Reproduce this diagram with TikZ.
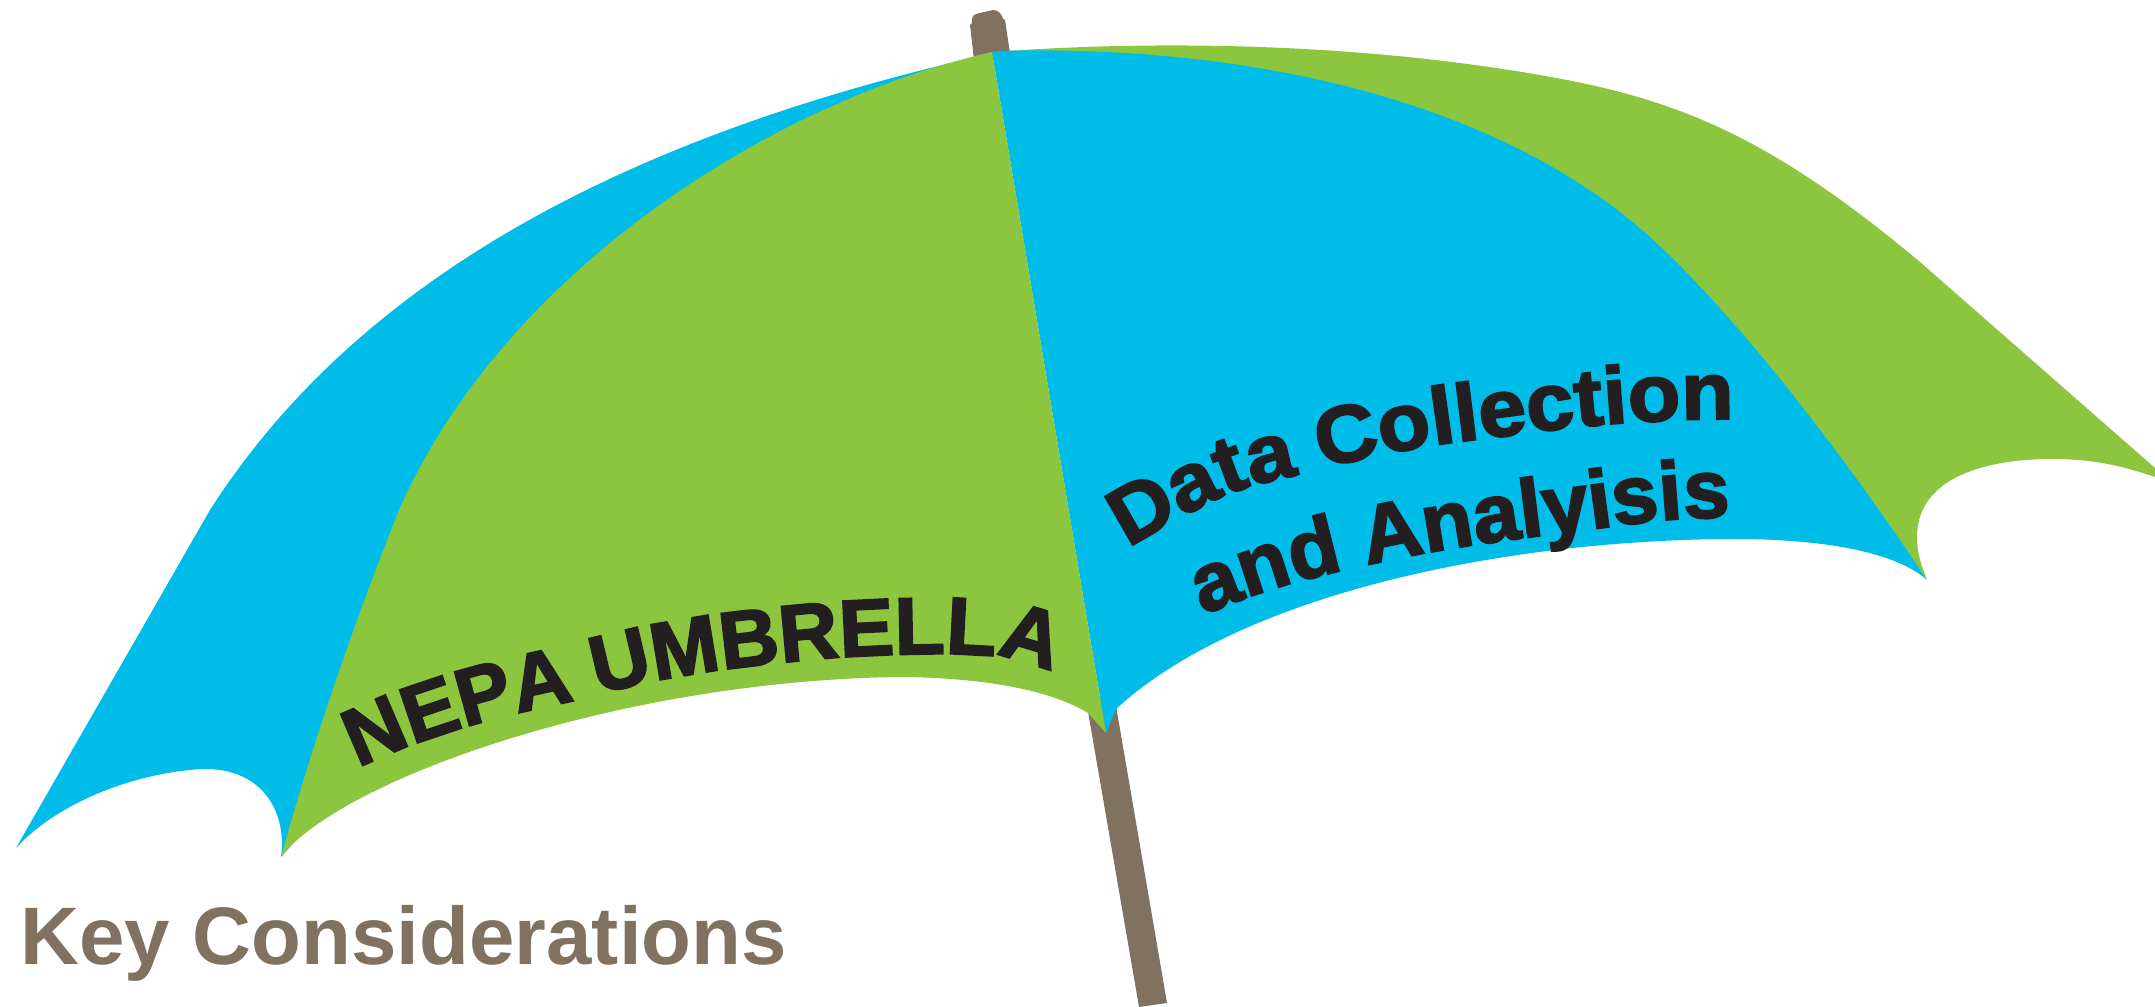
\documentclass[tikz,border=0pt]{standalone}
\usepackage{fontspec}
\usetikzlibrary{decorations.text}
\setmainfont{Liberation Sans}
\newfontfamily\heavyfont[FakeBold=2.5,FakeStretch=1.015]{Liberation Sans Bold}
\newfontfamily\wideheavyfont[FakeBold=2.5,FakeStretch=1.065]{Liberation Sans Bold}
\newcommand{\nepafont}{\fontsize{23}{23}\heavyfont}
\newcommand{\datafont}{\fontsize{23}{23}\wideheavyfont}
\newcommand{\andfont}{\fontsize{23.4}{23.4}\heavyfont}
\definecolor{umbgreen}{HTML}{8CC63F}
\definecolor{umbblue}{HTML}{00BCE8}
\definecolor{umbbrown}{HTML}{807160}
\definecolor{umbink}{HTML}{231F20}
\tikzset{
  panelgreen/.style={fill=umbgreen,draw=none},
  panelblue/.style={fill=umbblue,draw=none},
  poleshape/.style={fill=umbbrown,draw=none},
  curved/.style={smooth,tension=0.7},
}
\begin{document}
\begin{tikzpicture}[x=0.01cm,y=-0.01cm]
\useasboundingbox (0,0) rectangle (2155,1007);
% pole
\fill[poleshape] (974,60) -- (970,25) -- (972,23) .. controls (971,15) and (975,14) .. (980,13)
  -- (993,10) .. controls (999,10) and (1002,15) .. (1003,19) -- (1005,20) -- (1011,60) -- cycle;
\fill[poleshape] (1086,700) -- (1115,700) -- (1167,1003) -- (1139,1007) -- cycle;
% right green panel
\fill[panelgreen] (1007,51)
  .. controls (1200,38) and (1400,48) .. (1567,80)
  .. controls (1690,104) and (1780,145) .. (1920,262)
  -- (2155,468) -- (2155,477)
  .. controls (2120,465) and (2090,459) .. (2053,459)
  .. controls (1980,459) and (1917,480) .. (1917,537)
  .. controls (1917,552) and (1921,566) .. (1927,579)
  -- (1880,520) -- (1500,300) -- cycle;
% right blue panel
\fill[panelblue] (992,52) -- (1000,51)
  .. controls (1210,45) and (1480,85) .. (1650,237)
  .. controls (1740,320) and (1840,450) .. (1927,580)
  .. controls (1905,560) and (1850,539) .. (1733,539)
  .. controls (1500,540) and (1240,595) .. (1116,709)
  -- (1106,733) -- cycle;
% left blue panel
\fill[panelblue] (992,52) -- (976,57)
  .. controls (660,130) and (370,260) .. (210,510)
  -- (16,848)
  .. controls (60,800) and (140,772) .. (203,769)
  .. controls (265,768) and (287,815) .. (281,857)
  -- cycle;
% left green panel
\fill[panelgreen] (992,52)
  .. controls (760,105) and (500,280) .. (399,510)
  .. controls (355,620) and (312,745) .. (281,857)
  .. controls (340,780) and (620,680) .. (902,677)
  .. controls (985,678) and (1050,690) .. (1088,713)
  -- (1106,733) -- cycle;
% curved labels
\path[decorate,decoration={text along path,text color=umbink,
  text={|\nepafont|NEPA UMBRELLA}}]
  plot[curved] coordinates {(358,768) (412,745) (490,720) (567,702) (660,680) (770,664) (886,655) (990,656) (1050,670) (1110,686) (1170,702) (1240,720)};
\path[decorate,decoration={text along path,text color=umbink,
  text={|\datafont|Data Collection}}]
  plot[curved] coordinates {(1128,548) (1222,497) (1300,474) (1406,450) (1504,436) (1598,425) (1680,420) (1738,419) (1800,419) (1880,419)};
\path[decorate,decoration={text along path,text color=umbink,
  text={|\andfont|and Analyisis}}]
  plot[curved] coordinates {(1203,615) (1276,588) (1367,565) (1467,546) (1585,530) (1665,520) (1732,517) (1800,515) (1880,513)};
\node[anchor=base west,inner sep=0pt,text=umbbrown,font=\fontsize{23.2}{23.2}\bfseries] (keyc) at (20,964) {Key Considerations};
\end{tikzpicture}
\end{document}
